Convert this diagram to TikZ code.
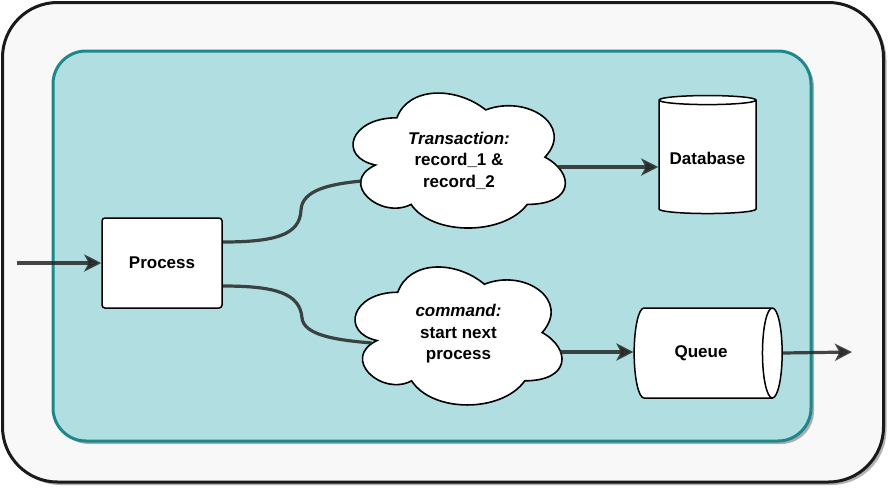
\documentclass[tikz,border=0pt]{standalone}
\usepackage{fontspec}
\setmainfont{Liberation Sans}
\usetikzlibrary{arrows.meta,shapes.geometric,shadows}
\definecolor{outerfill}{HTML}{F8F8F8}
\definecolor{outerline}{HTML}{1A1A1A}
\definecolor{tealfill}{HTML}{B0DEE1}
\definecolor{tealline}{HTML}{1E878B}
\newcommand{\mxCloud}[4]{%
  \draw[cloud line, shift={(#1,#2)}, x=#3pt, y=-#4pt]
    (0.25,0.25) .. controls (0.05,0.25) and (0,0.5) .. (0.16,0.55)
    .. controls (0,0.66) and (0.18,0.9) .. (0.31,0.8)
    .. controls (0.4,1) and (0.7,1) .. (0.8,0.8)
    .. controls (1,0.8) and (1,0.6) .. (0.875,0.5)
    .. controls (1,0.3) and (0.8,0.1) .. (0.625,0.2)
    .. controls (0.5,0.05) and (0.3,0.05) .. (0.25,0.25) -- cycle;}

\begin{document}
\begin{tikzpicture}[x=1pt, y=-1pt]
  \tikzset{
    every node/.style={font=\fontsize{17}{21.5}\selectfont\bfseries, align=center},
    box/.style={draw, fill=white, line width=1.5pt, rounded corners=3pt,
      minimum width=120pt, minimum height=90pt},
    cloud line/.style={draw, fill=white, line width=1.6pt},
    drum/.style={cylinder, draw, fill=white, line width=1.5pt},
    frame shadow/.style={drop shadow={shadow xshift=3pt, shadow yshift=-3pt, opacity=.3, fill=black}},
    link/.style={draw=black!85, opacity=.85, line width=3.2pt},
    flow/.style={link, -{Stealth[length=17pt, width=17pt, inset=4.5pt]}}
  }
  \useasboundingbox (0,0) rectangle (888,488);
  \draw[draw=outerline, fill=outerfill, line width=3pt, rounded corners=55pt, frame shadow]
    (2.5,2.5) rectangle (883.5,482);
  \draw[draw=tealline, fill=tealfill, line width=3pt, rounded corners=33pt, frame shadow]
    (53,51) rectangle (811,441);

  \node[box] (proc) at (162,263) {Process};

  \mxCloud{337.6}{78.4}{237}{157.5}
  \node[minimum width=212pt, minimum height=135pt] (trans) at (459,160.5)
    {{\itshape Transaction:}\\record\_1 \&\\record\_2};
  \mxCloud{340}{252}{231}{161}
  \node[minimum width=207pt, minimum height=138pt] (cmd) at (458.5,334)
    {{\itshape command:}\\start next\\process};

  \node[drum, shape border rotate=90, aspect=0.11, minimum height=118pt, minimum width=97pt]
    (db) at (707.5,158) {Database};
  \node[drum, aspect=0.9, minimum height=148pt, minimum width=90pt]
    (queue) at (701,353) {Queue};

  \coordinate (entry) at (17,263);
  \coordinate (exit) at (852,352);
  \coordinate (tout) at ([shift={(-7pt,-6.5pt)}]trans.east);
  \coordinate (cout) at ([shift={(-2pt,-18pt)}]cmd.east);

  \draw[flow] (entry) -- (proc.west);
  \draw[link] ([yshift=21pt]proc.east) .. controls (275,242) and (300,235) .. (301,210)
    .. controls (302,190) and (330,184) .. ([shift={(9pt,-20.5pt)}]trans.west);
  \draw[link] ([yshift=-23pt]proc.east) .. controls (275,286) and (300,293) .. (302,318)
    .. controls (304,335) and (335,340) .. ([shift={(17pt,-9pt)}]cmd.west);
  \draw[flow] (tout) -- (tout -| db.west);
  \draw[flow] (cout) -- (cout -| queue.west);
  \draw[flow] (queue.east) -- (exit);
\end{tikzpicture}
\end{document}
